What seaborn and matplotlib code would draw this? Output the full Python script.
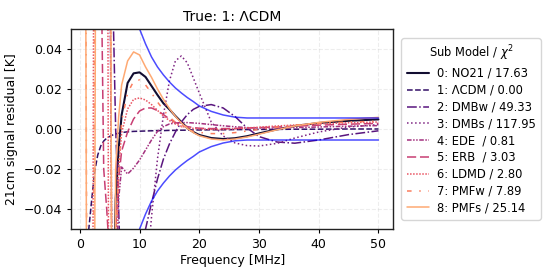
import matplotlib
matplotlib.use("Agg")
import matplotlib.pyplot as plt
import seaborn as sns
import numpy as np

# === DATA ===
freq = [1, 1.5, 2, 2.5, 3, 3.5, 4, 4.5, 5, 5.5, 6, 6.5,
        7, 8, 9, 10, 11, 12, 13, 14, 15, 16, 17, 18, 19, 20,
        22, 24, 26, 28, 30, 33, 36, 40, 45, 50]

res_no21 = [-0.4, -0.6, -0.7, -0.6, -0.5, -0.4, -0.3, -0.25, -0.2, -0.11, -0.035, -0.01,
            0.007, 0.023, 0.0278, 0.0283, 0.026, 0.0215, 0.017, 0.0128, 0.0098, 0.0065, 0.0035, 0.0005, -0.0015, -0.003,
            -0.0045, -0.005, -0.0046, -0.0036, -0.0022, -0.0002, 0.0015, 0.003, 0.0041, 0.0048]
res_lcdm = [-0.3, -0.05, -0.035, -0.021, -0.013, -0.0085, -0.006, -0.0046, -0.0037, -0.003, -0.0025, -0.0021,
            -0.0018, -0.0014, -0.0012, -0.0011, -0.001, -0.0009, -0.0008, -0.0008, -0.0007, -0.0007, -0.0006, -0.0006, -0.0005, -0.0005,
            -0.0004, -0.0004, -0.0003, -0.0003, -0.0002, -0.0002, -0.0001, -0.0001, 0.0, 0.0]
res_dmbw = [0.3, 0.35, 0.35, 0.3, 0.28, 0.25, 0.22, 0.18, 0.14, 0.07, 0.0, -0.04,
            -0.09, -0.13, -0.12, -0.085, -0.05, -0.037, -0.025, -0.015, -0.0075, -0.0015, 0.0035, 0.0072, 0.0098, 0.0113,
            0.0122, 0.0105, 0.0062, 0.0005, -0.0038, -0.0065, -0.0071, -0.0055, -0.0028, -0.0009]
res_dmbs = [0.2, 0.25, 0.25, 0.22, 0.2, 0.18, 0.16, 0.14, 0.12, -0.15, -0.3, -0.35,
            -0.35, -0.3, -0.22, -0.14, -0.08, -0.044, -0.015, 0.007, 0.024, 0.034, 0.0365, 0.033, 0.0255, 0.018,
            0.0035, -0.0035, -0.007, -0.0083, -0.0085, -0.0072, -0.0045, -0.0015, 0.001, 0.0022]
res_ede = [0.2, 0.22, 0.22, 0.2, 0.19, 0.17, 0.15, 0.13, 0.1, -0.12, -0.08, -0.035,
           -0.019, -0.0225, -0.0195, -0.0155, -0.0105, -0.0055, -0.0012, 0.0012, 0.0025, 0.003, 0.0032, 0.0032, 0.003, 0.0028,
           0.0022, 0.0016, 0.0011, 0.0007, 0.0005, 0.0005, 0.0007, 0.001, 0.0014, 0.0017]
res_erb = [0.15, 0.2, 0.25, 0.25, 0.2, 0.1, -0.02, -0.04, -0.065, -0.08, -0.05, -0.025,
           -0.011, -0.0015, 0.005, 0.009, 0.0105, 0.0105, 0.0092, 0.0072, 0.005, 0.0033, 0.002, 0.0012, 0.0007, 0.0004,
           0.0002, 0.0002, 0.0003, 0.0005, 0.0007, 0.001, 0.0014, 0.0019, 0.0024, 0.0028]
res_ldmd = [-0.3, -0.4, -0.3, 0.3, 0.4, 0.4, 0.35, 0.3, -0.3, -0.2, -0.06, -0.02,
            -0.002, 0.01, 0.0148, 0.0155, 0.0145, 0.0122, 0.0093, 0.0065, 0.0042, 0.0025, 0.0014, 0.0007, 0.0003, 0.0001,
            -0.0002, -0.0002, 0.0001, 0.0005, 0.0009, 0.0015, 0.002, 0.0026, 0.0031, 0.0035]
res_pmfw = [0.08, -0.4, -0.4, 0.1, 0.4, 0.45, 0.4, 0.35, 0.3, -0.3, -0.06, -0.02,
            0.004, 0.018, 0.0238, 0.0245, 0.022, 0.018, 0.0135, 0.0095, 0.006, 0.0033, 0.0012, -0.0003, -0.0012, -0.0017,
            -0.0023, -0.0023, -0.0018, -0.001, -0.0002, 0.0009, 0.0019, 0.0028, 0.0035, 0.0039]
res_pmfs = [0.06, -0.5, -0.5, -0.06, 0.5, 0.5, 0.5, 0.45, 0.3, -0.3, -0.02, 0.006,
            0.022, 0.034, 0.0385, 0.037, 0.031, 0.0258, 0.02, 0.0148, 0.0102, 0.0063, 0.003, 0.0003, -0.0018, -0.0034,
            -0.005, -0.0055, -0.005, -0.004, -0.0026, -0.0004, 0.0015, 0.0033, 0.0048, 0.0058]

# noise envelope (plotted as +/-)
noise = [5.0, 2.0, 1.2, 0.8, 0.6, 0.45, 0.35, 0.28, 0.22, 0.18, 0.15, 0.13,
         0.11, 0.08, 0.063, 0.05, 0.0425, 0.036, 0.031, 0.027, 0.0235, 0.0205, 0.018, 0.0157, 0.0137, 0.0115,
         0.0088, 0.0070, 0.0059, 0.0055, 0.0055, 0.0055, 0.0055, 0.0055, 0.0055, 0.0055]

model_names = ["NO21", "ΛCDM", "DMBw", "DMBs", "EDE ", "ERB ", "LDMD", "PMFw", "PMFs"]
chi2 = [17.63, 0.00, 49.33, 117.95, 0.81, 3.03, 2.80, 7.89, 25.14]
residuals = [res_no21, res_lcdm, res_dmbw, res_dmbs, res_ede, res_erb, res_ldmd, res_pmfw, res_pmfs]

LINESTYLES = ['-', '--', '-.', ':', (0, (3, 1, 1, 1, 1, 1)), (0, (6, 2.5)),
              (0, (1, 1)), (0, (3, 5, 1, 5)), '-']

sns.set_style("ticks")
plt.rcParams['font.family'] = ['DejaVu Sans']
plt.rcParams['text.color'] = 'black'
plt.rcParams['axes.labelcolor'] = 'black'
plt.rcParams['xtick.color'] = 'black'
plt.rcParams['ytick.color'] = 'black'
FS = 9
LEG_FS = 8.3

fig, ax = plt.subplots(figsize=(5.56, 2.78), dpi=100)
fig.subplots_adjust(left=0.128, right=0.707, bottom=0.176, top=0.896)

colors = sns.color_palette("magma", 10)
for i, (name, chi, res) in enumerate(zip(model_names, chi2, residuals)):
    sns.lineplot(x=freq, y=res, ax=ax, color=colors[i], linestyle=LINESTYLES[i],
                 linewidth=1.5 if i == 0 else 1.1, label=f"{i}: {name} / {chi:.2f}")

noise_arr = np.array(noise)
sns.lineplot(x=freq, y=noise_arr, ax=ax, color='blue', alpha=0.7, linewidth=1.1)
sns.lineplot(x=freq, y=-noise_arr, ax=ax, color='blue', alpha=0.7, linewidth=1.1)

ax.set_ylim(-0.05, 0.05)
ax.set_xticks([0, 10, 20, 30, 40, 50])
ax.set_yticks([-0.04, -0.02, 0.0, 0.02, 0.04])
ax.tick_params(labelsize=FS, length=3)
ax.grid(True, linestyle='--', alpha=0.35)
for sp in ax.spines.values():
    sp.set_color('#222222')
    sp.set_linewidth(1.0)

ax.set_xlabel("Frequency [MHz]", fontsize=FS, labelpad=2)
ax.set_ylabel("21cm signal residual [K]", fontsize=FS)
ax.set_title("True: 1: ΛCDM", fontsize=10)

ax.legend(title="Sub Model / $\\chi^2$", loc='center left', bbox_to_anchor=(1.008, 0.5),
          fontsize=LEG_FS, title_fontsize=LEG_FS, labelspacing=0.33, handlelength=1.9,
          handletextpad=0.7, borderpad=0.45)

plt.savefig("out.png", dpi=100)
plt.close()
